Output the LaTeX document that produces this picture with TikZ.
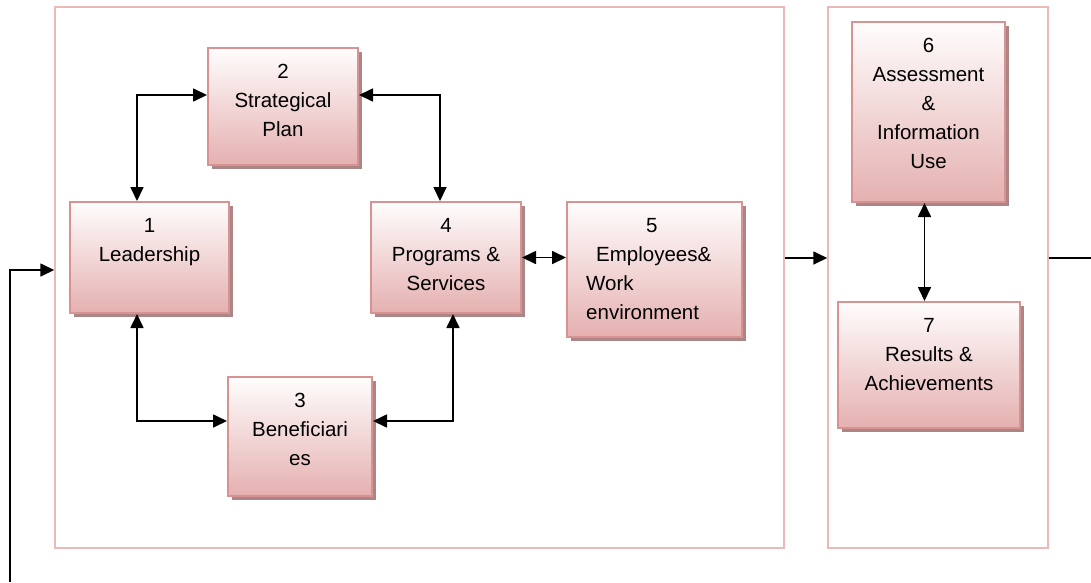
\documentclass[tikz,border=0pt]{standalone}
\usepackage{fontspec}
\setmainfont{Liberation Sans}
\usetikzlibrary{arrows.meta,shadows}
\definecolor{boxedge}{RGB}{217,146,146}
\definecolor{boxtop}{RGB}{255,253,253}
\definecolor{boxbot}{RGB}{229,176,176}
\definecolor{boxshade}{RGB}{172,134,134}
\definecolor{frameedge}{RGB}{235,185,185}

\begin{document}
\begin{tikzpicture}[x=1pt,y=-1pt,>={Triangle[length=14pt,width=13pt]},
  font=\fontsize{20.5}{29}\selectfont,line cap=butt,
  blk/.style={draw=boxedge,line width=2pt,top color=boxtop,bottom color=boxbot,inner sep=0pt,
    drop shadow={shadow xshift=3.5pt,shadow yshift=-3.5pt,fill=boxshade,opacity=1}},
  txt/.style={anchor=north,align=center,inner sep=0pt},
  frm/.style={draw=frameedge,line width=1.5pt,inner sep=0pt},
  link/.style={line width=1.7pt}]
\useasboundingbox (0,0) rectangle (1091,582);

% the two frames
\node[frm,minimum width=729,minimum height=541] (fl) at (419.5,277.5) {};
\node[frm,minimum width=220,minimum height=541] (fr) at (938,277.5) {};

% boxes
\node[blk,minimum width=159,minimum height=111] (b1) at (149.5,257.5) {};
\node[blk,minimum width=150,minimum height=117] (b2) at (283,106.5) {};
\node[blk,minimum width=144,minimum height=119] (b3) at (300,436.5) {};
\node[blk,minimum width=150,minimum height=111] (b4) at (446,257.5) {};
\node[blk,minimum width=175,minimum height=135] (b5) at (654.5,269.5) {};
\node[blk,minimum width=153,minimum height=180] (b6) at (928.5,112) {};
\node[blk,minimum width=182,minimum height=126] (b7) at (929,365) {};

% box texts
\node[txt] (t1) at ([yshift=-17pt]b1.north) {1\\Leadership};
\node[txt] (t2) at ([yshift=-17pt]b2.north) {2\\Strategical\\Plan};
\node[txt] (t3) at ([yshift=-17pt]b3.north) {3\\Beneficiari\\es};
\node[txt] (t4) at ([yshift=-17pt]b4.north) {4\\Programs \&\\Services};
\node[txt,anchor=north west,align=left] (t5) at ([xshift=20pt,yshift=-17pt]b5.north west)
  {\hspace*{60pt}5\\\hspace*{10pt}Employees\&\\Work\\environment};
\node[txt] (t6) at ([yshift=-17pt]b6.north) {6\\Assessment\\\&\\Information\\Use};
\node[txt] (t7) at ([yshift=-17pt]b7.north) {7\\Results \&\\Achievements};

% links
\draw[link,<->] ([xshift=-12.5pt]b1.north) |- ([yshift=11.5pt]b2.west);
\draw[link,<->] ([yshift=11.5pt]b2.east) -| ([xshift=-6pt]b4.north);
\draw[link,<->] ([xshift=-12.5pt]b1.south) |- ([yshift=15.5pt]b3.west);
\draw[link,<->] ([xshift=7pt]b4.south) |- ([yshift=15.5pt]b3.east);
\draw[link,<->] (b4.east) -- (b4.east -| b5.west);
\draw[link,<->] ([xshift=-4pt]b6.south) -- ([xshift=-4.5pt]b7.north);

% between the frames, out and back
\coordinate (out) at (1091,258);
\coordinate (fb) at (10,582);
\draw[link,->] ([yshift=19.5pt]fl.east) -- ([yshift=19.5pt]fr.west);
\draw[link] (out -| fr.east) -- (out);
\draw[link,->] (fb) |- ([yshift=7.5pt]fl.west);
\end{tikzpicture}
\end{document}
